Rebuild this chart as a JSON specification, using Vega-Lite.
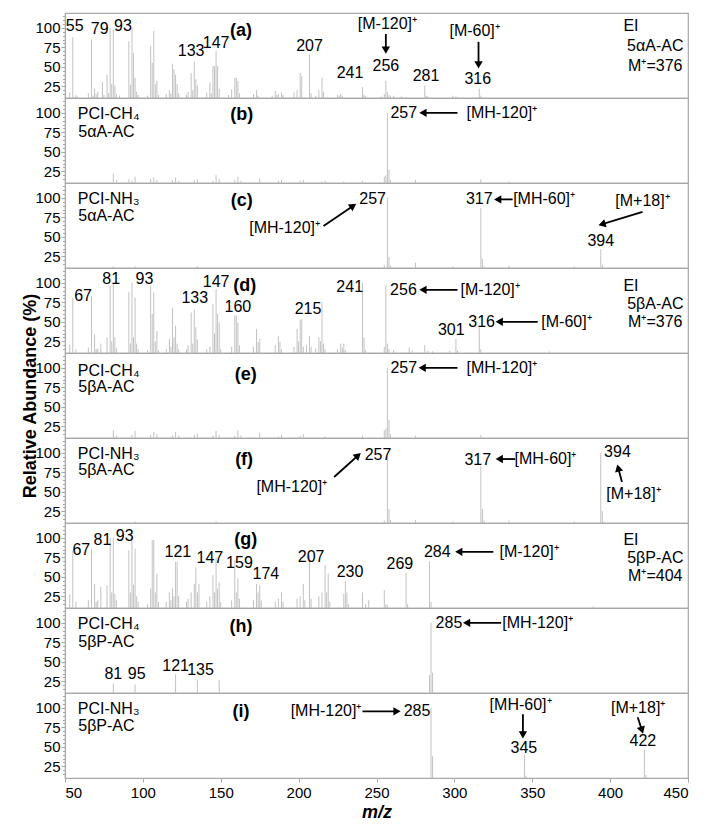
{
"$schema":"https://vega.github.io/schema/vega-lite/v6.json",
"padding":{"left":21,"top":12,"right":5,"bottom":0},
"bounds":"flush",
"data":{"values":[
{"panel":"a","kind":"peak","mz":53,"ab":17},{"panel":"a","kind":"peak","mz":55,"ab":88},{"panel":"a","kind":"peak","mz":57,"ab":14},{"panel":"a","kind":"peak","mz":58,"ab":12},{"panel":"a","kind":"peak","mz":65,"ab":16},{"panel":"a","kind":"peak","mz":67,"ab":85},{"panel":"a","kind":"peak","mz":68,"ab":13},{"panel":"a","kind":"peak","mz":69,"ab":22},{"panel":"a","kind":"peak","mz":70,"ab":15},{"panel":"a","kind":"peak","mz":71,"ab":18},{"panel":"a","kind":"peak","mz":74,"ab":31},{"panel":"a","kind":"peak","mz":75,"ab":14},{"panel":"a","kind":"peak","mz":77,"ab":40},{"panel":"a","kind":"peak","mz":78,"ab":16},{"panel":"a","kind":"peak","mz":79,"ab":100},{"panel":"a","kind":"peak","mz":80,"ab":28},{"panel":"a","kind":"peak","mz":81,"ab":98},{"panel":"a","kind":"peak","mz":82,"ab":26},{"panel":"a","kind":"peak","mz":83,"ab":15},{"panel":"a","kind":"peak","mz":85,"ab":13},{"panel":"a","kind":"peak","mz":91,"ab":83},{"panel":"a","kind":"peak","mz":92,"ab":27},{"panel":"a","kind":"peak","mz":93,"ab":100},{"panel":"a","kind":"peak","mz":94,"ab":68},{"panel":"a","kind":"peak","mz":95,"ab":36},{"panel":"a","kind":"peak","mz":96,"ab":18},{"panel":"a","kind":"peak","mz":97,"ab":14},{"panel":"a","kind":"peak","mz":103,"ab":13},{"panel":"a","kind":"peak","mz":105,"ab":77},{"panel":"a","kind":"peak","mz":106,"ab":55},{"panel":"a","kind":"peak","mz":107,"ab":96},{"panel":"a","kind":"peak","mz":108,"ab":28},{"panel":"a","kind":"peak","mz":109,"ab":32},{"panel":"a","kind":"peak","mz":110,"ab":14},{"panel":"a","kind":"peak","mz":115,"ab":15},{"panel":"a","kind":"peak","mz":117,"ab":20},{"panel":"a","kind":"peak","mz":118,"ab":16},{"panel":"a","kind":"peak","mz":119,"ab":54},{"panel":"a","kind":"peak","mz":120,"ab":47},{"panel":"a","kind":"peak","mz":121,"ab":40},{"panel":"a","kind":"peak","mz":122,"ab":28},{"panel":"a","kind":"peak","mz":123,"ab":16},{"panel":"a","kind":"peak","mz":128,"ab":14},{"panel":"a","kind":"peak","mz":129,"ab":18},{"panel":"a","kind":"peak","mz":131,"ab":42},{"panel":"a","kind":"peak","mz":132,"ab":20},{"panel":"a","kind":"peak","mz":133,"ab":57},{"panel":"a","kind":"peak","mz":134,"ab":34},{"panel":"a","kind":"peak","mz":135,"ab":26},{"panel":"a","kind":"peak","mz":141,"ab":17},{"panel":"a","kind":"peak","mz":143,"ab":30},{"panel":"a","kind":"peak","mz":144,"ab":16},{"panel":"a","kind":"peak","mz":145,"ab":51},{"panel":"a","kind":"peak","mz":146,"ab":51},{"panel":"a","kind":"peak","mz":147,"ab":70},{"panel":"a","kind":"peak","mz":148,"ab":51},{"panel":"a","kind":"peak","mz":149,"ab":22},{"panel":"a","kind":"peak","mz":155,"ab":14},{"panel":"a","kind":"peak","mz":157,"ab":21},{"panel":"a","kind":"peak","mz":159,"ab":36},{"panel":"a","kind":"peak","mz":160,"ab":36},{"panel":"a","kind":"peak","mz":161,"ab":32},{"panel":"a","kind":"peak","mz":162,"ab":16},{"panel":"a","kind":"peak","mz":171,"ab":15},{"panel":"a","kind":"peak","mz":173,"ab":20},{"panel":"a","kind":"peak","mz":174,"ab":13},{"panel":"a","kind":"peak","mz":183,"ab":13},{"panel":"a","kind":"peak","mz":185,"ab":19},{"panel":"a","kind":"peak","mz":186,"ab":14},{"panel":"a","kind":"peak","mz":187,"ab":15},{"panel":"a","kind":"peak","mz":189,"ab":17},{"panel":"a","kind":"peak","mz":190,"ab":14},{"panel":"a","kind":"peak","mz":197,"ab":17},{"panel":"a","kind":"peak","mz":199,"ab":20},{"panel":"a","kind":"peak","mz":201,"ab":42},{"panel":"a","kind":"peak","mz":202,"ab":38},{"panel":"a","kind":"peak","mz":207,"ab":66},{"panel":"a","kind":"peak","mz":208,"ab":16},{"panel":"a","kind":"peak","mz":211,"ab":13},{"panel":"a","kind":"peak","mz":213,"ab":20},{"panel":"a","kind":"peak","mz":215,"ab":36},{"panel":"a","kind":"peak","mz":216,"ab":18},{"panel":"a","kind":"peak","mz":225,"ab":14},{"panel":"a","kind":"peak","mz":226,"ab":13},{"panel":"a","kind":"peak","mz":227,"ab":16},{"panel":"a","kind":"peak","mz":228,"ab":13},{"panel":"a","kind":"peak","mz":241,"ab":24},{"panel":"a","kind":"peak","mz":242,"ab":14},{"panel":"a","kind":"peak","mz":243,"ab":12},{"panel":"a","kind":"peak","mz":253,"ab":12},{"panel":"a","kind":"peak","mz":255,"ab":15},{"panel":"a","kind":"peak","mz":256,"ab":32},{"panel":"a","kind":"peak","mz":257,"ab":18},{"panel":"a","kind":"peak","mz":258,"ab":14},{"panel":"a","kind":"peak","mz":259,"ab":13},{"panel":"a","kind":"peak","mz":261,"ab":13},{"panel":"a","kind":"peak","mz":266,"ab":12},{"panel":"a","kind":"peak","mz":281,"ab":26},{"panel":"a","kind":"peak","mz":282,"ab":13},{"panel":"a","kind":"peak","mz":283,"ab":12},{"panel":"a","kind":"peak","mz":299,"ab":13},{"panel":"a","kind":"peak","mz":301,"ab":12},{"panel":"a","kind":"peak","mz":316,"ab":22},{"panel":"a","kind":"peak","mz":317,"ab":13},
{"panel":"a","kind":"label","mz":56.2,"ab":102,"text":"55"},{"panel":"a","kind":"label","mz":72.3,"ab":98,"text":"79"},{"panel":"a","kind":"label","mz":87.2,"ab":102,"text":"93"},{"panel":"a","kind":"label","mz":131,"ab":70,"text":"133"},{"panel":"a","kind":"label","mz":147,"ab":81,"text":"147"},{"panel":"a","kind":"label","mz":207,"ab":77,"text":"207"},{"panel":"a","kind":"label","mz":233,"ab":42.5,"text":"241"},{"panel":"a","kind":"label","mz":256,"ab":51,"text":"256"},{"panel":"a","kind":"label","mz":281.8,"ab":38,"text":"281"},{"panel":"a","kind":"label","mz":315,"ab":34,"text":"316"},{"panel":"a","kind":"label","mz":257,"ab":104.5,"text":"[M-120]⁺"},{"panel":"a","kind":"label","mz":313,"ab":96,"text":"[M-60]⁺"},{"panel":"a","kind":"label","mz":413.4,"ab":102,"text":"EI"},{"panel":"a","kind":"label","mz":429,"ab":77,"text":"5αA-AC"},{"panel":"a","kind":"label","mz":429,"ab":51,"text":"M⁺=376"},
{"panel":"a","kind":"id","mz":163,"ab":96,"text":"(a)"},
{"panel":"a","kind":"arrow","mz":256,"ab":92,"mz2":256,"ab2":73},{"panel":"a","kind":"head","mz":256,"ab":73,"angle":180},
{"panel":"a","kind":"arrow","mz":315.5,"ab":82,"mz2":315.5,"ab2":54},{"panel":"a","kind":"head","mz":315.5,"ab":54,"angle":180},

{"panel":"b","kind":"peak","mz":81,"ab":22},{"panel":"b","kind":"peak","mz":83,"ab":14},{"panel":"b","kind":"peak","mz":91,"ab":15},{"panel":"b","kind":"peak","mz":93,"ab":13},{"panel":"b","kind":"peak","mz":95,"ab":18},{"panel":"b","kind":"peak","mz":105,"ab":15},{"panel":"b","kind":"peak","mz":107,"ab":17},{"panel":"b","kind":"peak","mz":109,"ab":14},{"panel":"b","kind":"peak","mz":119,"ab":14},{"panel":"b","kind":"peak","mz":121,"ab":17},{"panel":"b","kind":"peak","mz":123,"ab":13},{"panel":"b","kind":"peak","mz":133,"ab":14},{"panel":"b","kind":"peak","mz":135,"ab":15},{"panel":"b","kind":"peak","mz":145,"ab":13},{"panel":"b","kind":"peak","mz":147,"ab":20},{"panel":"b","kind":"peak","mz":149,"ab":15},{"panel":"b","kind":"peak","mz":159,"ab":14},{"panel":"b","kind":"peak","mz":161,"ab":18},{"panel":"b","kind":"peak","mz":163,"ab":13},{"panel":"b","kind":"peak","mz":175,"ab":16},{"panel":"b","kind":"peak","mz":187,"ab":13},{"panel":"b","kind":"peak","mz":189,"ab":14},{"panel":"b","kind":"peak","mz":201,"ab":13},{"panel":"b","kind":"peak","mz":203,"ab":14},{"panel":"b","kind":"peak","mz":215,"ab":12},{"panel":"b","kind":"peak","mz":217,"ab":13},{"panel":"b","kind":"peak","mz":229,"ab":12},{"panel":"b","kind":"peak","mz":241,"ab":13},{"panel":"b","kind":"peak","mz":255,"ab":18},{"panel":"b","kind":"peak","mz":256,"ab":20},{"panel":"b","kind":"peak","mz":257,"ab":100},{"panel":"b","kind":"peak","mz":258,"ab":27},{"panel":"b","kind":"peak","mz":259,"ab":14},{"panel":"b","kind":"peak","mz":275,"ab":14},{"panel":"b","kind":"peak","mz":317,"ab":15},{"panel":"b","kind":"peak","mz":335,"ab":12},
{"panel":"b","kind":"label","mz":267.5,"ab":100,"text":"257"},{"panel":"b","kind":"label","mz":330.5,"ab":100,"text":"[MH-120]⁺"},{"panel":"b","kind":"label","mz":78,"ab":99,"text":"PCI-CH₄"},{"panel":"b","kind":"label","mz":76.6,"ab":75.4,"text":"5αA-AC"},
{"panel":"b","kind":"id","mz":163.5,"ab":97,"text":"(b)"},
{"panel":"b","kind":"arrow","mz":302,"ab":100,"mz2":280.6,"ab2":100},{"panel":"b","kind":"head","mz":280.6,"ab":100,"angle":270},

{"panel":"c","kind":"peak","mz":81,"ab":12},{"panel":"c","kind":"peak","mz":95,"ab":12},{"panel":"c","kind":"peak","mz":135,"ab":12},{"panel":"c","kind":"peak","mz":255,"ab":14},{"panel":"c","kind":"peak","mz":257,"ab":100},{"panel":"c","kind":"peak","mz":258,"ab":24},{"panel":"c","kind":"peak","mz":259,"ab":13},{"panel":"c","kind":"peak","mz":275,"ab":17},{"panel":"c","kind":"peak","mz":299,"ab":12},{"panel":"c","kind":"peak","mz":317,"ab":87},{"panel":"c","kind":"peak","mz":318,"ab":22},{"panel":"c","kind":"peak","mz":319,"ab":12},{"panel":"c","kind":"peak","mz":335,"ab":13},{"panel":"c","kind":"peak","mz":377,"ab":12},{"panel":"c","kind":"peak","mz":394,"ab":34},{"panel":"c","kind":"peak","mz":395,"ab":14},
{"panel":"c","kind":"label","mz":247.5,"ab":98,"text":"257"},{"panel":"c","kind":"label","mz":191,"ab":61.7,"text":"[MH-120]⁺"},{"panel":"c","kind":"label","mz":316,"ab":98,"text":"317"},{"panel":"c","kind":"label","mz":357.6,"ab":98,"text":"[MH-60]⁺"},{"panel":"c","kind":"label","mz":420.8,"ab":96,"text":"[M+18]⁺"},{"panel":"c","kind":"label","mz":394,"ab":45,"text":"394"},{"panel":"c","kind":"label","mz":78,"ab":98,"text":"PCI-NH₃"},{"panel":"c","kind":"label","mz":76.6,"ab":76.7,"text":"5αA-AC"},
{"panel":"c","kind":"id","mz":163.5,"ab":96,"text":"(c)"},
{"panel":"c","kind":"arrow","mz":216,"ab":64,"mz2":234.4,"ab2":88.8},{"panel":"c","kind":"head","mz":234.4,"ab":88.8,"angle":56},
{"panel":"c","kind":"arrow","mz":337.4,"ab":98,"mz2":328.6,"ab2":98},{"panel":"c","kind":"head","mz":328.6,"ab":98,"angle":270},
{"panel":"c","kind":"arrow","mz":420.8,"ab":82,"mz2":395.5,"ab2":66.5},{"panel":"c","kind":"head","mz":395.5,"ab":66.5,"angle":253},

{"panel":"d","kind":"peak","mz":53,"ab":21},{"panel":"d","kind":"peak","mz":55,"ab":81},{"panel":"d","kind":"peak","mz":57,"ab":15},{"panel":"d","kind":"peak","mz":65,"ab":17},{"panel":"d","kind":"peak","mz":67,"ab":83},{"panel":"d","kind":"peak","mz":69,"ab":34},{"panel":"d","kind":"peak","mz":70,"ab":15},{"panel":"d","kind":"peak","mz":71,"ab":16},{"panel":"d","kind":"peak","mz":73,"ab":22},{"panel":"d","kind":"peak","mz":77,"ab":30},{"panel":"d","kind":"peak","mz":79,"ab":96},{"panel":"d","kind":"peak","mz":80,"ab":25},{"panel":"d","kind":"peak","mz":81,"ab":100},{"panel":"d","kind":"peak","mz":82,"ab":30},{"panel":"d","kind":"peak","mz":83,"ab":16},{"panel":"d","kind":"peak","mz":91,"ab":88},{"panel":"d","kind":"peak","mz":92,"ab":22},{"panel":"d","kind":"peak","mz":93,"ab":100},{"panel":"d","kind":"peak","mz":94,"ab":30},{"panel":"d","kind":"peak","mz":95,"ab":81},{"panel":"d","kind":"peak","mz":96,"ab":22},{"panel":"d","kind":"peak","mz":97,"ab":15},{"panel":"d","kind":"peak","mz":103,"ab":14},{"panel":"d","kind":"peak","mz":105,"ab":96},{"panel":"d","kind":"peak","mz":106,"ab":60},{"panel":"d","kind":"peak","mz":107,"ab":88},{"panel":"d","kind":"peak","mz":108,"ab":25},{"panel":"d","kind":"peak","mz":109,"ab":38},{"panel":"d","kind":"peak","mz":110,"ab":14},{"panel":"d","kind":"peak","mz":115,"ab":15},{"panel":"d","kind":"peak","mz":117,"ab":28},{"panel":"d","kind":"peak","mz":118,"ab":18},{"panel":"d","kind":"peak","mz":119,"ab":68},{"panel":"d","kind":"peak","mz":120,"ab":30},{"panel":"d","kind":"peak","mz":121,"ab":45},{"panel":"d","kind":"peak","mz":122,"ab":22},{"panel":"d","kind":"peak","mz":123,"ab":15},{"panel":"d","kind":"peak","mz":128,"ab":15},{"panel":"d","kind":"peak","mz":129,"ab":20},{"panel":"d","kind":"peak","mz":131,"ab":62},{"panel":"d","kind":"peak","mz":132,"ab":22},{"panel":"d","kind":"peak","mz":133,"ab":66},{"panel":"d","kind":"peak","mz":134,"ab":43},{"panel":"d","kind":"peak","mz":135,"ab":27},{"panel":"d","kind":"peak","mz":141,"ab":15},{"panel":"d","kind":"peak","mz":143,"ab":18},{"panel":"d","kind":"peak","mz":145,"ab":73},{"panel":"d","kind":"peak","mz":146,"ab":35},{"panel":"d","kind":"peak","mz":147,"ab":92},{"panel":"d","kind":"peak","mz":148,"ab":60},{"panel":"d","kind":"peak","mz":149,"ab":49},{"panel":"d","kind":"peak","mz":150,"ab":15},{"panel":"d","kind":"peak","mz":157,"ab":18},{"panel":"d","kind":"peak","mz":159,"ab":58},{"panel":"d","kind":"peak","mz":160,"ab":58},{"panel":"d","kind":"peak","mz":161,"ab":49},{"panel":"d","kind":"peak","mz":162,"ab":20},{"panel":"d","kind":"peak","mz":171,"ab":18},{"panel":"d","kind":"peak","mz":173,"ab":41},{"panel":"d","kind":"peak","mz":174,"ab":24},{"panel":"d","kind":"peak","mz":175,"ab":28},{"panel":"d","kind":"peak","mz":185,"ab":20},{"panel":"d","kind":"peak","mz":187,"ab":32},{"panel":"d","kind":"peak","mz":188,"ab":24},{"panel":"d","kind":"peak","mz":189,"ab":15},{"panel":"d","kind":"peak","mz":197,"ab":18},{"panel":"d","kind":"peak","mz":199,"ab":41},{"panel":"d","kind":"peak","mz":200,"ab":25},{"panel":"d","kind":"peak","mz":201,"ab":53},{"panel":"d","kind":"peak","mz":202,"ab":53},{"panel":"d","kind":"peak","mz":203,"ab":18},{"panel":"d","kind":"peak","mz":205,"ab":20},{"panel":"d","kind":"peak","mz":207,"ab":32},{"panel":"d","kind":"peak","mz":208,"ab":18},{"panel":"d","kind":"peak","mz":211,"ab":16},{"panel":"d","kind":"peak","mz":213,"ab":30},{"panel":"d","kind":"peak","mz":214,"ab":25},{"panel":"d","kind":"peak","mz":215,"ab":75},{"panel":"d","kind":"peak","mz":216,"ab":22},{"panel":"d","kind":"peak","mz":217,"ab":15},{"panel":"d","kind":"peak","mz":225,"ab":15},{"panel":"d","kind":"peak","mz":227,"ab":22},{"panel":"d","kind":"peak","mz":228,"ab":17},{"panel":"d","kind":"peak","mz":229,"ab":22},{"panel":"d","kind":"peak","mz":230,"ab":14},{"panel":"d","kind":"peak","mz":241,"ab":100},{"panel":"d","kind":"peak","mz":242,"ab":30},{"panel":"d","kind":"peak","mz":243,"ab":14},{"panel":"d","kind":"peak","mz":255,"ab":18},{"panel":"d","kind":"peak","mz":256,"ab":96},{"panel":"d","kind":"peak","mz":257,"ab":22},{"panel":"d","kind":"peak","mz":258,"ab":15},{"panel":"d","kind":"peak","mz":261,"ab":14},{"panel":"d","kind":"peak","mz":271,"ab":17},{"panel":"d","kind":"peak","mz":273,"ab":13},{"panel":"d","kind":"peak","mz":281,"ab":20},{"panel":"d","kind":"peak","mz":283,"ab":13},{"panel":"d","kind":"peak","mz":286,"ab":12},{"panel":"d","kind":"peak","mz":297,"ab":13},{"panel":"d","kind":"peak","mz":301,"ab":28},{"panel":"d","kind":"peak","mz":302,"ab":13},{"panel":"d","kind":"peak","mz":316,"ab":43},{"panel":"d","kind":"peak","mz":317,"ab":15},{"panel":"d","kind":"peak","mz":361,"ab":12},
{"panel":"d","kind":"label","mz":61.6,"ab":82.7,"text":"67"},{"panel":"d","kind":"label","mz":79.7,"ab":105,"text":"81"},{"panel":"d","kind":"label","mz":101,"ab":105,"text":"93"},{"panel":"d","kind":"label","mz":133.3,"ab":80,"text":"133"},{"panel":"d","kind":"label","mz":147,"ab":101,"text":"147"},{"panel":"d","kind":"label","mz":161,"ab":69,"text":"160"},{"panel":"d","kind":"label","mz":206,"ab":66.4,"text":"215"},{"panel":"d","kind":"label","mz":232.8,"ab":94,"text":"241"},{"panel":"d","kind":"label","mz":267.3,"ab":91,"text":"256"},{"panel":"d","kind":"label","mz":323,"ab":91,"text":"[M-120]⁺"},{"panel":"d","kind":"label","mz":298,"ab":40,"text":"301"},{"panel":"d","kind":"label","mz":317.5,"ab":49.7,"text":"316"},{"panel":"d","kind":"label","mz":372,"ab":50,"text":"[M-60]⁺"},{"panel":"d","kind":"label","mz":413.4,"ab":96,"text":"EI"},{"panel":"d","kind":"label","mz":429,"ab":73,"text":"5βA-AC"},{"panel":"d","kind":"label","mz":429,"ab":50,"text":"M⁺=376"},
{"panel":"d","kind":"id","mz":165.4,"ab":96,"text":"(d)"},
{"panel":"d","kind":"arrow","mz":302,"ab":91,"mz2":280.6,"ab2":91},{"panel":"d","kind":"head","mz":280.6,"ab":91,"angle":270},
{"panel":"d","kind":"arrow","mz":353.5,"ab":50,"mz2":329.6,"ab2":50},{"panel":"d","kind":"head","mz":329.6,"ab":50,"angle":270},

{"panel":"e","kind":"peak","mz":81,"ab":20},{"panel":"e","kind":"peak","mz":83,"ab":13},{"panel":"e","kind":"peak","mz":93,"ab":14},{"panel":"e","kind":"peak","mz":95,"ab":19},{"panel":"e","kind":"peak","mz":105,"ab":14},{"panel":"e","kind":"peak","mz":107,"ab":18},{"panel":"e","kind":"peak","mz":109,"ab":15},{"panel":"e","kind":"peak","mz":119,"ab":13},{"panel":"e","kind":"peak","mz":121,"ab":18},{"panel":"e","kind":"peak","mz":123,"ab":13},{"panel":"e","kind":"peak","mz":133,"ab":14},{"panel":"e","kind":"peak","mz":135,"ab":16},{"panel":"e","kind":"peak","mz":145,"ab":13},{"panel":"e","kind":"peak","mz":147,"ab":19},{"panel":"e","kind":"peak","mz":149,"ab":14},{"panel":"e","kind":"peak","mz":159,"ab":13},{"panel":"e","kind":"peak","mz":161,"ab":20},{"panel":"e","kind":"peak","mz":163,"ab":13},{"panel":"e","kind":"peak","mz":175,"ab":17},{"panel":"e","kind":"peak","mz":187,"ab":12},{"panel":"e","kind":"peak","mz":189,"ab":14},{"panel":"e","kind":"peak","mz":201,"ab":13},{"panel":"e","kind":"peak","mz":203,"ab":15},{"panel":"e","kind":"peak","mz":217,"ab":12},{"panel":"e","kind":"peak","mz":241,"ab":13},{"panel":"e","kind":"peak","mz":255,"ab":20},{"panel":"e","kind":"peak","mz":256,"ab":22},{"panel":"e","kind":"peak","mz":257,"ab":100},{"panel":"e","kind":"peak","mz":258,"ab":33},{"panel":"e","kind":"peak","mz":259,"ab":15},{"panel":"e","kind":"peak","mz":275,"ab":13},{"panel":"e","kind":"peak","mz":317,"ab":14},
{"panel":"e","kind":"label","mz":267.5,"ab":100,"text":"257"},{"panel":"e","kind":"label","mz":330.5,"ab":100,"text":"[MH-120]⁺"},{"panel":"e","kind":"label","mz":78,"ab":96,"text":"PCI-CH₄"},{"panel":"e","kind":"label","mz":76.6,"ab":76,"text":"5βA-AC"},
{"panel":"e","kind":"id","mz":166,"ab":91,"text":"(e)"},
{"panel":"e","kind":"arrow","mz":302,"ab":100,"mz2":280.1,"ab2":100},{"panel":"e","kind":"head","mz":280.1,"ab":100,"angle":270},

{"panel":"f","kind":"peak","mz":95,"ab":12},{"panel":"f","kind":"peak","mz":147,"ab":12},{"panel":"f","kind":"peak","mz":255,"ab":13},{"panel":"f","kind":"peak","mz":257,"ab":100},{"panel":"f","kind":"peak","mz":258,"ab":28},{"panel":"f","kind":"peak","mz":259,"ab":14},{"panel":"f","kind":"peak","mz":275,"ab":14},{"panel":"f","kind":"peak","mz":299,"ab":12},{"panel":"f","kind":"peak","mz":317,"ab":83},{"panel":"f","kind":"peak","mz":318,"ab":28},{"panel":"f","kind":"peak","mz":319,"ab":13},{"panel":"f","kind":"peak","mz":335,"ab":13},{"panel":"f","kind":"peak","mz":377,"ab":12},{"panel":"f","kind":"peak","mz":394,"ab":100},{"panel":"f","kind":"peak","mz":395,"ab":25},{"panel":"f","kind":"peak","mz":396,"ab":12},
{"panel":"f","kind":"label","mz":251,"ab":97,"text":"257"},{"panel":"f","kind":"label","mz":195.6,"ab":56,"text":"[MH-120]⁺"},{"panel":"f","kind":"label","mz":315,"ab":91,"text":"317"},{"panel":"f","kind":"label","mz":358.5,"ab":92,"text":"[MH-60]⁺"},{"panel":"f","kind":"label","mz":404.7,"ab":101,"text":"394"},{"panel":"f","kind":"label","mz":415,"ab":47.6,"text":"[M+18]⁺"},{"panel":"f","kind":"label","mz":78,"ab":99,"text":"PCI-NH₃"},{"panel":"f","kind":"label","mz":76.6,"ab":78,"text":"5βA-AC"},
{"panel":"f","kind":"id","mz":165,"ab":91,"text":"(f)"},
{"panel":"f","kind":"arrow","mz":222.8,"ab":69,"mz2":237.6,"ab2":95.6},{"panel":"f","kind":"head","mz":237.6,"ab":95.6,"angle":48},
{"panel":"f","kind":"arrow","mz":339,"ab":92,"mz2":329.6,"ab2":92},{"panel":"f","kind":"head","mz":329.6,"ab":92,"angle":270},
{"panel":"f","kind":"arrow","mz":407.6,"ab":62.6,"mz2":405.4,"ab2":79},{"panel":"f","kind":"head","mz":405.4,"ab":79,"angle":345},

{"panel":"g","kind":"peak","mz":53,"ab":28},{"panel":"g","kind":"peak","mz":55,"ab":84},{"panel":"g","kind":"peak","mz":57,"ab":18},{"panel":"g","kind":"peak","mz":65,"ab":20},{"panel":"g","kind":"peak","mz":67,"ab":86},{"panel":"g","kind":"peak","mz":69,"ab":41},{"panel":"g","kind":"peak","mz":70,"ab":18},{"panel":"g","kind":"peak","mz":71,"ab":20},{"panel":"g","kind":"peak","mz":73,"ab":37},{"panel":"g","kind":"peak","mz":77,"ab":39},{"panel":"g","kind":"peak","mz":79,"ab":100},{"panel":"g","kind":"peak","mz":80,"ab":30},{"panel":"g","kind":"peak","mz":81,"ab":100},{"panel":"g","kind":"peak","mz":82,"ab":28},{"panel":"g","kind":"peak","mz":83,"ab":20},{"panel":"g","kind":"peak","mz":91,"ab":84},{"panel":"g","kind":"peak","mz":92,"ab":30},{"panel":"g","kind":"peak","mz":93,"ab":100},{"panel":"g","kind":"peak","mz":94,"ab":40},{"panel":"g","kind":"peak","mz":95,"ab":86},{"panel":"g","kind":"peak","mz":96,"ab":25},{"panel":"g","kind":"peak","mz":97,"ab":18},{"panel":"g","kind":"peak","mz":103,"ab":15},{"panel":"g","kind":"peak","mz":105,"ab":35},{"panel":"g","kind":"peak","mz":106,"ab":97},{"panel":"g","kind":"peak","mz":107,"ab":97},{"panel":"g","kind":"peak","mz":108,"ab":30},{"panel":"g","kind":"peak","mz":109,"ab":54},{"panel":"g","kind":"peak","mz":110,"ab":18},{"panel":"g","kind":"peak","mz":115,"ab":18},{"panel":"g","kind":"peak","mz":117,"ab":30},{"panel":"g","kind":"peak","mz":118,"ab":20},{"panel":"g","kind":"peak","mz":119,"ab":35},{"panel":"g","kind":"peak","mz":120,"ab":25},{"panel":"g","kind":"peak","mz":121,"ab":69},{"panel":"g","kind":"peak","mz":122,"ab":69},{"panel":"g","kind":"peak","mz":123,"ab":25},{"panel":"g","kind":"peak","mz":128,"ab":18},{"panel":"g","kind":"peak","mz":129,"ab":22},{"panel":"g","kind":"peak","mz":131,"ab":30},{"panel":"g","kind":"peak","mz":133,"ab":41},{"panel":"g","kind":"peak","mz":134,"ab":62},{"panel":"g","kind":"peak","mz":135,"ab":30},{"panel":"g","kind":"peak","mz":136,"ab":41},{"panel":"g","kind":"peak","mz":141,"ab":18},{"panel":"g","kind":"peak","mz":143,"ab":25},{"panel":"g","kind":"peak","mz":145,"ab":52},{"panel":"g","kind":"peak","mz":146,"ab":30},{"panel":"g","kind":"peak","mz":147,"ab":75},{"panel":"g","kind":"peak","mz":148,"ab":35},{"panel":"g","kind":"peak","mz":149,"ab":43},{"panel":"g","kind":"peak","mz":150,"ab":18},{"panel":"g","kind":"peak","mz":157,"ab":20},{"panel":"g","kind":"peak","mz":159,"ab":71},{"panel":"g","kind":"peak","mz":160,"ab":30},{"panel":"g","kind":"peak","mz":161,"ab":48},{"panel":"g","kind":"peak","mz":162,"ab":22},{"panel":"g","kind":"peak","mz":171,"ab":20},{"panel":"g","kind":"peak","mz":173,"ab":41},{"panel":"g","kind":"peak","mz":174,"ab":30},{"panel":"g","kind":"peak","mz":175,"ab":39},{"panel":"g","kind":"peak","mz":176,"ab":20},{"panel":"g","kind":"peak","mz":185,"ab":18},{"panel":"g","kind":"peak","mz":187,"ab":22},{"panel":"g","kind":"peak","mz":189,"ab":30},{"panel":"g","kind":"peak","mz":190,"ab":18},{"panel":"g","kind":"peak","mz":199,"ab":22},{"panel":"g","kind":"peak","mz":201,"ab":25},{"panel":"g","kind":"peak","mz":203,"ab":41},{"panel":"g","kind":"peak","mz":204,"ab":20},{"panel":"g","kind":"peak","mz":207,"ab":77},{"panel":"g","kind":"peak","mz":208,"ab":22},{"panel":"g","kind":"peak","mz":213,"ab":25},{"panel":"g","kind":"peak","mz":215,"ab":30},{"panel":"g","kind":"peak","mz":217,"ab":65},{"panel":"g","kind":"peak","mz":218,"ab":30},{"panel":"g","kind":"peak","mz":219,"ab":54},{"panel":"g","kind":"peak","mz":220,"ab":18},{"panel":"g","kind":"peak","mz":229,"ab":28},{"panel":"g","kind":"peak","mz":230,"ab":45},{"panel":"g","kind":"peak","mz":231,"ab":30},{"panel":"g","kind":"peak","mz":232,"ab":15},{"panel":"g","kind":"peak","mz":241,"ab":30},{"panel":"g","kind":"peak","mz":243,"ab":15},{"panel":"g","kind":"peak","mz":245,"ab":20},{"panel":"g","kind":"peak","mz":255,"ab":33},{"panel":"g","kind":"peak","mz":256,"ab":15},{"panel":"g","kind":"peak","mz":257,"ab":14},{"panel":"g","kind":"peak","mz":269,"ab":55},{"panel":"g","kind":"peak","mz":270,"ab":15},{"panel":"g","kind":"peak","mz":284,"ab":70},{"panel":"g","kind":"peak","mz":285,"ab":18},{"panel":"g","kind":"peak","mz":389,"ab":12},
{"panel":"g","kind":"label","mz":60.5,"ab":84,"text":"67"},{"panel":"g","kind":"label","mz":74,"ab":97,"text":"81"},{"panel":"g","kind":"label","mz":88.3,"ab":102,"text":"93"},{"panel":"g","kind":"label","mz":122.5,"ab":82,"text":"121"},{"panel":"g","kind":"label","mz":143,"ab":73.6,"text":"147"},{"panel":"g","kind":"label","mz":162,"ab":68,"text":"159"},{"panel":"g","kind":"label","mz":179,"ab":53,"text":"174"},{"panel":"g","kind":"label","mz":208,"ab":76,"text":"207"},{"panel":"g","kind":"label","mz":233,"ab":56,"text":"230"},{"panel":"g","kind":"label","mz":265,"ab":67,"text":"269"},{"panel":"g","kind":"label","mz":289,"ab":82,"text":"284"},{"panel":"g","kind":"label","mz":348,"ab":82,"text":"[M-120]⁺"},{"panel":"g","kind":"label","mz":413.4,"ab":97,"text":"EI"},{"panel":"g","kind":"label","mz":429,"ab":74,"text":"5βP-AC"},{"panel":"g","kind":"label","mz":429,"ab":51,"text":"M⁺=404"},
{"panel":"g","kind":"id","mz":166,"ab":97.6,"text":"(g)"},
{"panel":"g","kind":"arrow","mz":325,"ab":82,"mz2":303.6,"ab2":82},{"panel":"g","kind":"head","mz":303.6,"ab":82,"angle":270},

{"panel":"h","kind":"peak","mz":81,"ab":22},{"panel":"h","kind":"peak","mz":95,"ab":21},{"panel":"h","kind":"peak","mz":121,"ab":34},{"panel":"h","kind":"peak","mz":135,"ab":27},{"panel":"h","kind":"peak","mz":149,"ab":27},{"panel":"h","kind":"peak","mz":284,"ab":33},{"panel":"h","kind":"peak","mz":285,"ab":100},{"panel":"h","kind":"peak","mz":286,"ab":36},
{"panel":"h","kind":"label","mz":296.5,"ab":100,"text":"285"},{"panel":"h","kind":"label","mz":353.5,"ab":100,"text":"[MH-120]⁺"},{"panel":"h","kind":"label","mz":81,"ab":35,"text":"81"},{"panel":"h","kind":"label","mz":96,"ab":35,"text":"95"},{"panel":"h","kind":"label","mz":121,"ab":44,"text":"121"},{"panel":"h","kind":"label","mz":137,"ab":39,"text":"135"},{"panel":"h","kind":"label","mz":78,"ab":99,"text":"PCI-CH₄"},{"panel":"h","kind":"label","mz":76.6,"ab":75.5,"text":"5βP-AC"},
{"panel":"h","kind":"id","mz":163,"ab":95,"text":"(h)"},
{"panel":"h","kind":"arrow","mz":330,"ab":100,"mz2":308.6,"ab2":100},{"panel":"h","kind":"head","mz":308.6,"ab":100,"angle":270},

{"panel":"i","kind":"peak","mz":285,"ab":100},{"panel":"i","kind":"peak","mz":286,"ab":38},{"panel":"i","kind":"peak","mz":345,"ab":40},{"panel":"i","kind":"peak","mz":346,"ab":13},{"panel":"i","kind":"peak","mz":422,"ab":46},{"panel":"i","kind":"peak","mz":423,"ab":14},
{"panel":"i","kind":"label","mz":217.6,"ab":95.5,"text":"[MH-120]⁺"},{"panel":"i","kind":"label","mz":276,"ab":96,"text":"285"},{"panel":"i","kind":"label","mz":342.5,"ab":104,"text":"[MH-60]⁺"},{"panel":"i","kind":"label","mz":344.6,"ab":48.5,"text":"345"},{"panel":"i","kind":"label","mz":418,"ab":99.7,"text":"[M+18]⁺"},{"panel":"i","kind":"label","mz":421,"ab":57,"text":"422"},{"panel":"i","kind":"label","mz":78,"ab":98,"text":"PCI-NH₃"},{"panel":"i","kind":"label","mz":76.6,"ab":77,"text":"5βP-AC"},
{"panel":"i","kind":"id","mz":163,"ab":95,"text":"(i)"},
{"panel":"i","kind":"arrow","mz":241,"ab":95.5,"mz2":262.4,"ab2":95.5},{"panel":"i","kind":"head","mz":262.4,"ab":95.5,"angle":90},
{"panel":"i","kind":"arrow","mz":344,"ab":91.6,"mz2":344,"ab2":66.8},{"panel":"i","kind":"head","mz":344,"ab":66.8,"angle":180},
{"panel":"i","kind":"arrow","mz":417.7,"ab":87.8,"mz2":420.2,"ab2":72.7},{"panel":"i","kind":"head","mz":420.2,"ab":72.7,"angle":162}
]},
"facet":{"row":{"field":"panel","type":"nominal","title":"Relative Abundance (%)",
"header":{"labels":false,"labelPadding":0,"titleFont":"Liberation Sans","titleFontSize":18,"titleFontWeight":"bold","titleColor":"#000000","titlePadding":-16}}},
"spacing":0,
"spec":{
"width":623,"height":85,
"encoding":{
"x":{"field":"mz","type":"quantitative","scale":{"domain":[50,450],"nice":false,"zero":false},
"axis":{"title":"m/z","values":[50,100,150,200,250,300,350,400,450],"labelFontSize":15,"titleFontStyle":"italic","titleFontWeight":"bold","titleFontSize":18,"titlePadding":3,"labelPadding":3,"tickSize":4}},
"y":{"field":"ab","type":"quantitative","scale":{"domain":[10,119],"nice":false,"zero":false},
"axis":{"title":null,
"values":[15,20,25,30,35,40,45,50,55,60,65,70,75,80,85,90,95,100,105,110,115],
"labelExpr":"datum.value % 25 == 0 ? datum.label : ''",
"labelFontSize":{"condition":{"test":"datum.value % 25 == 0","value":15},"value":0},
"tickSize":{"condition":{"test":"datum.value % 25 == 0","value":4},"value":2.5},"labelPadding":1}}
},
"layer":[
{"transform":[{"filter":"datum.kind == 'peak'"}],"mark":{"type":"rule","color":"#c2c2c2","strokeWidth":1,"clip":true},
"encoding":{"y2":{"datum":10}}},
{"transform":[{"filter":"datum.kind == 'arrow'"}],"mark":{"type":"rule","color":"#000000","strokeWidth":1.8},
"encoding":{"x2":{"field":"mz2"},"y2":{"field":"ab2"}}},
{"transform":[{"filter":"datum.kind == 'head'"}],"mark":{"type":"point","shape":"triangle","filled":true,"color":"#000000","size":70,"opacity":1},
"encoding":{"angle":{"field":"angle","type":"quantitative","scale":null}}},
{"transform":[{"filter":"datum.kind == 'label'"}],"mark":{"type":"text","font":"Liberation Sans","fontSize":16,"color":"#000000","baseline":"middle","align":"center"},
"encoding":{"text":{"field":"text"}}},
{"transform":[{"filter":"datum.kind == 'id'"}],"mark":{"type":"text","font":"Liberation Sans","fontSize":18,"fontWeight":"bold","color":"#000000","baseline":"middle","align":"center"},
"encoding":{"text":{"field":"text"}}}
]},
"config":{
"font":"Liberation Sans",
"view":{"stroke":"#a8a8a8","strokeWidth":1.2},
"axis":{"labelFont":"Liberation Sans","labelFontSize":15,"labelColor":"#000000","titleFont":"Liberation Sans","titleColor":"#000000","domainColor":"#a8a8a8","tickColor":"#a8a8a8","grid":false,"labelOverlap":false}
}
}
